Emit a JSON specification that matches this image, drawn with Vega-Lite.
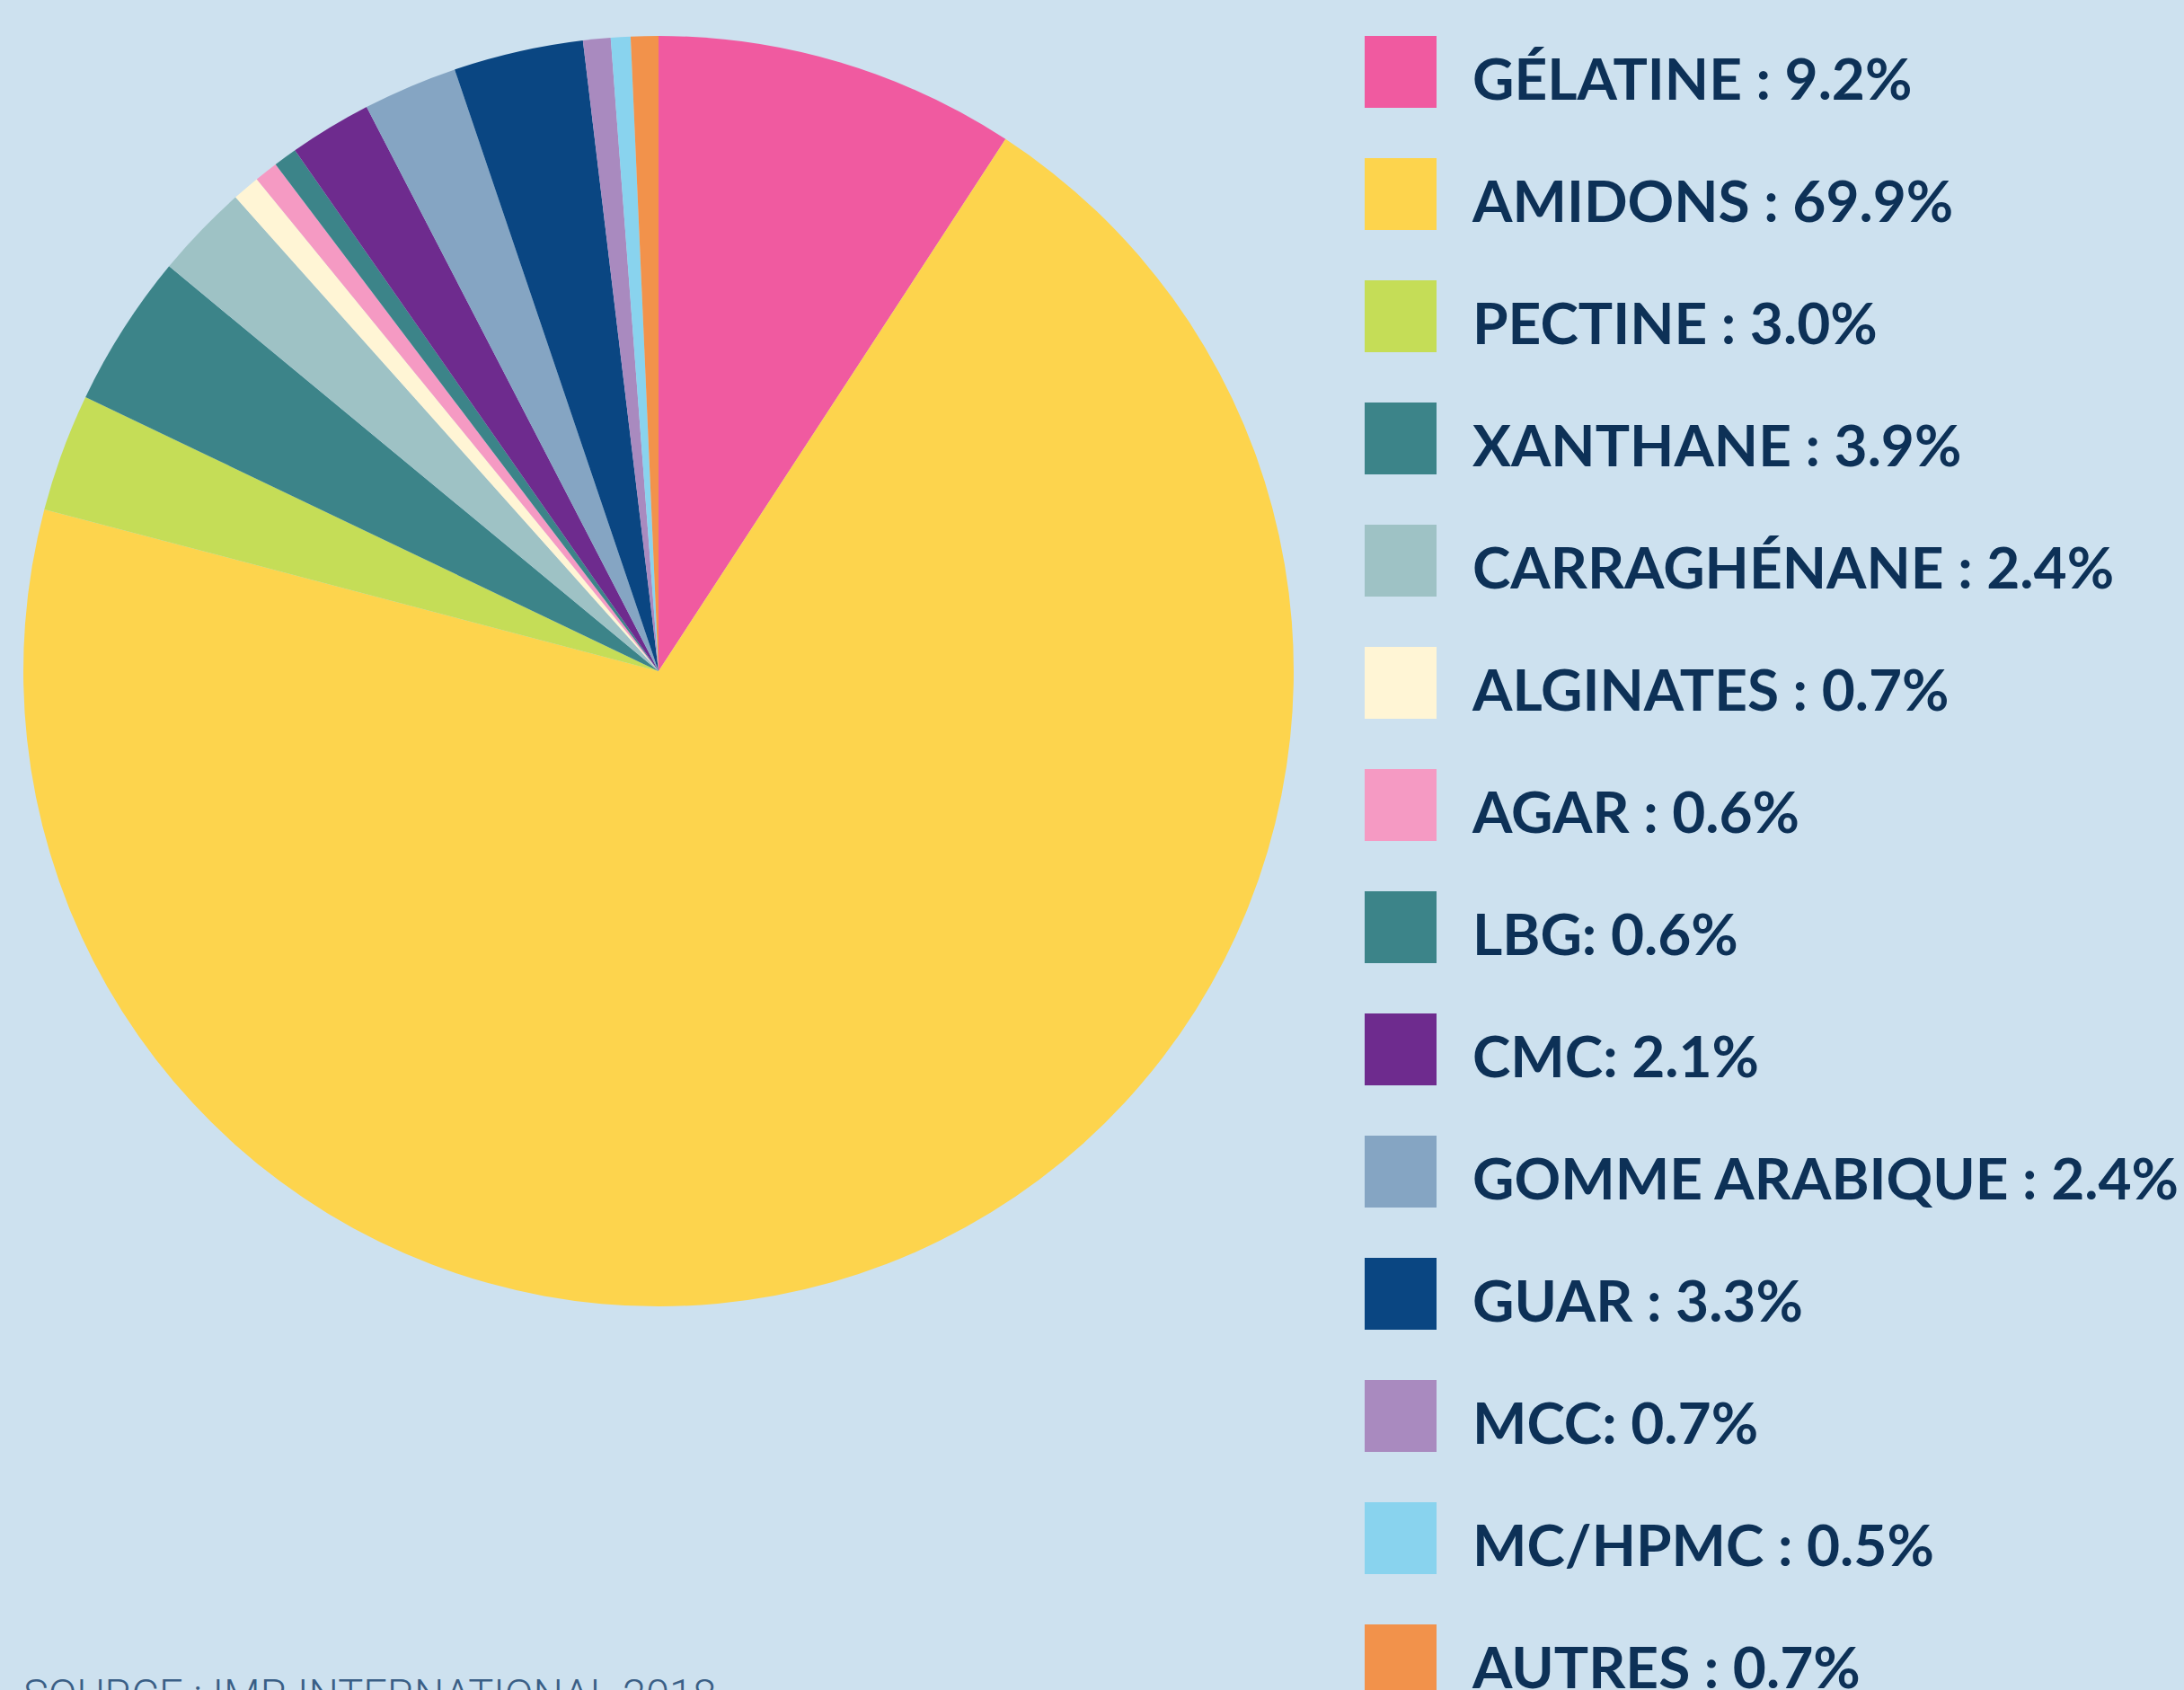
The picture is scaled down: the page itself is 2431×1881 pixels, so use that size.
{
  "$schema": "https://vega.github.io/schema/vega-lite/v6.json",
  "autosize": "none",
  "width": 1414,
  "height": 1414,
  "padding": {"left": 26, "top": 40, "right": 991, "bottom": 427},
  "background": "#cde1ef",
  "config": {"view": {"stroke": null}},
  "title": {
    "text": "SOURCE : IMR INTERNATIONAL 2018",
    "orient": "bottom",
    "anchor": "start",
    "offset": -39,
    "baseline": "top",
    "font": "Roboto",
    "fontWeight": 300,
    "fontSize": 47,
    "color": "#3a5f86"
  },
  "data": {
    "values": [
      {"order": 1, "label": "GÉLATINE : 9.2%", "pct": 9.2},
      {"order": 2, "label": "AMIDONS : 69.9%", "pct": 69.9},
      {"order": 3, "label": "PECTINE : 3.0%", "pct": 3.0},
      {"order": 4, "label": "XANTHANE : 3.9%", "pct": 3.9},
      {"order": 5, "label": "CARRAGHÉNANE : 2.4%", "pct": 2.4},
      {"order": 6, "label": "ALGINATES : 0.7%", "pct": 0.7},
      {"order": 7, "label": "AGAR : 0.6%", "pct": 0.6},
      {"order": 8, "label": "LBG: 0.6%", "pct": 0.6},
      {"order": 9, "label": "CMC: 2.1%", "pct": 2.1},
      {"order": 10, "label": "GOMME ARABIQUE : 2.4%", "pct": 2.4},
      {"order": 11, "label": "GUAR : 3.3%", "pct": 3.3},
      {"order": 12, "label": "MCC: 0.7%", "pct": 0.7},
      {"order": 13, "label": "MC/HPMC : 0.5%", "pct": 0.5},
      {"order": 14, "label": "AUTRES : 0.7%", "pct": 0.7}
    ]
  },
  "mark": {"type": "arc", "stroke": null},
  "encoding": {
    "theta": {"field": "pct", "type": "quantitative", "stack": true},
    "order": {"field": "order", "type": "quantitative"},
    "color": {
      "field": "label",
      "type": "nominal",
      "scale": {
        "domain": ["GÉLATINE : 9.2%", "AMIDONS : 69.9%", "PECTINE : 3.0%", "XANTHANE : 3.9%", "CARRAGHÉNANE : 2.4%", "ALGINATES : 0.7%", "AGAR : 0.6%", "LBG: 0.6%", "CMC: 2.1%", "GOMME ARABIQUE : 2.4%", "GUAR : 3.3%", "MCC: 0.7%", "MC/HPMC : 0.5%", "AUTRES : 0.7%"],
        "range": ["#f05aa0", "#fdd44d", "#c5dd57", "#3c8489", "#9ec2c5", "#fff5d5", "#f59ac3", "#3c8489", "#6e2b8e", "#85a5c3", "#0a4682", "#a98abf", "#89d3ee", "#f2924b"]
      },
      "legend": {
        "title": null,
        "orient": "right",
        "offset": 67,
        "padding": 12,
        "symbolType": "M-1,-1.3H1V0.7H-1Z",
        "symbolSize": 6400,
        "symbolStrokeWidth": 0,
        "symbolOpacity": 1,
        "rowPadding": 52,
        "labelOffset": 40,
        "labelFont": "Lato",
        "labelFontWeight": "bold",
        "labelFontSize": 64,
        "labelColor": "#0d3157",
        "labelLimit": 1000
      }
    }
  }
}
